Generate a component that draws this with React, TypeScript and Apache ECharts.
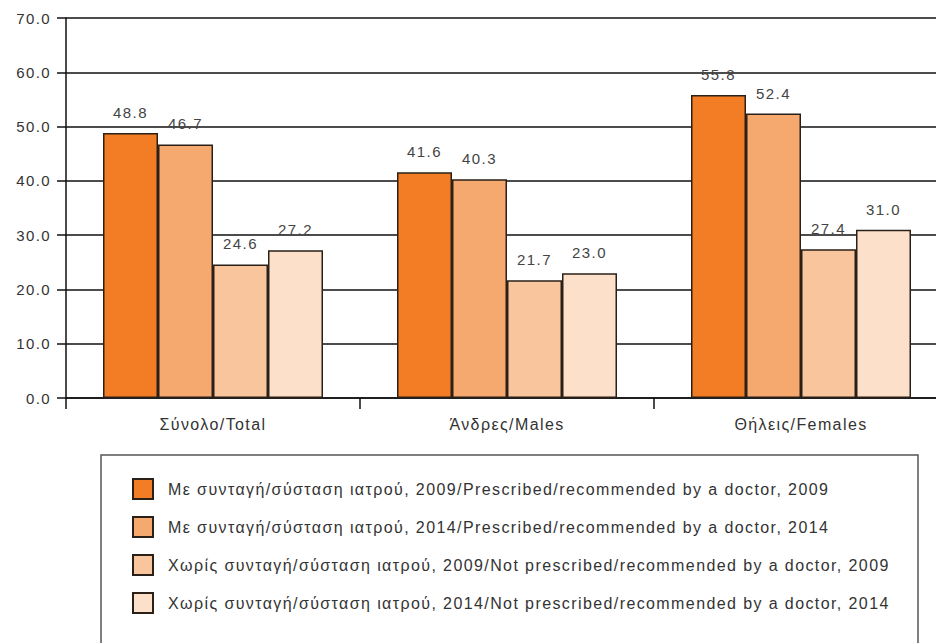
import React, { useEffect, useRef } from "react";
import * as echarts from "echarts";

const categories = ["Σύνολο/Total", "Άνδρες/Males", "Θήλεις/Females"];
const seriesNames = [
  "Με συνταγή/σύσταση ιατρού, 2009/Prescribed/recommended by a doctor, 2009",
  "Με συνταγή/σύσταση ιατρού, 2014/Prescribed/recommended by a doctor, 2014",
  "Χωρίς συνταγή/σύσταση ιατρού, 2009/Not prescribed/recommended by a doctor, 2009",
  "Χωρίς συνταγή/σύσταση ιατρού, 2014/Not prescribed/recommended by a doctor, 2014",
];
const prescribed2009 = [48.8, 41.6, 55.8];
const prescribed2014 = [46.7, 40.3, 52.4];
const notPrescribed2009 = [24.6, 21.7, 27.4];
const notPrescribed2014 = [27.2, 23.0, 31.0];
const seriesValues = [prescribed2009, prescribed2014, notPrescribed2009, notPrescribed2014];
const colors = ["#F27D24", "#F6A96F", "#F9C59C", "#FCE0C9"];
const yMin = 0;
const yMax = 70;
const yStep = 10;

export default function App() {
  const ref = useRef<HTMLDivElement>(null);
  useEffect(() => {
    if (!ref.current) return;
    const chart = echarts.init(ref.current, undefined, { renderer: "svg" });
    const font = "Liberation Sans, Arial, sans-serif";
    chart.setOption({
      animation: false,
      backgroundColor: "#ffffff",
      grid: { left: 66, top: 18, width: 882, height: 380, containLabel: false, outerBoundsMode: "none" },
      xAxis: {
        type: "category",
        data: categories,
        axisLine: { show: true, lineStyle: { color: "#111", width: 1.5 } },
        axisTick: { show: true, length: 11, lineStyle: { color: "#111", width: 1.5 } },
        axisLabel: { margin: 18, fontSize: 16, color: "#333", fontFamily: font },
      },
      yAxis: {
        type: "value",
        min: yMin,
        max: yMax,
        interval: yStep,
        axisLine: { show: true, lineStyle: { color: "#111", width: 1.5 } },
        axisTick: { show: true, length: 9, lineStyle: { color: "#111", width: 1.5 } },
        axisLabel: {
          margin: 15,
          fontSize: 15,
          color: "#333",
          fontFamily: font,
          formatter: (v: number) => v.toFixed(1),
        },
        splitLine: { show: true, lineStyle: { color: "#111", width: 1.5 } },
      },
      legend: {
        orient: "vertical",
        left: 132,
        top: 478,
        padding: 0,
        itemWidth: 20,
        itemHeight: 20,
        itemGap: 16,
        icon: "rect",
        textStyle: { fontSize: 16, color: "#333", fontFamily: font, padding: [0, 0, 0, 10] },
        data: seriesNames,
      },
      graphic: [
        {
          type: "rect",
          shape: { x: 101, y: 455, width: 817, height: 260 },
          style: { fill: "none", stroke: "#555", lineWidth: 1.5 },
          silent: true,
        },
      ],
      series: seriesValues.map((vals, i) => ({
        name: seriesNames[i],
        type: "bar",
        data: vals,
        barWidth: 55,
        barGap: "0%",
        itemStyle: { color: colors[i], borderColor: "#2a2018", borderWidth: 1.5 },
        label: {
          show: true,
          position: "top",
          distance: 13,
          fontSize: 15,
          color: "#444",
          fontFamily: font,
          formatter: (p: any) => Number(p.value).toFixed(1),
        },
      })),
    });
    return () => chart.dispose();
  }, []);
  return (
    <div style={{ position: "fixed", left: 0, top: 0, width: 936, height: 643, overflow: "hidden", background: "#fff" }}>
      <div ref={ref} style={{ width: 960, height: 643, letterSpacing: "1.4px" }} />
    </div>
  );
}
